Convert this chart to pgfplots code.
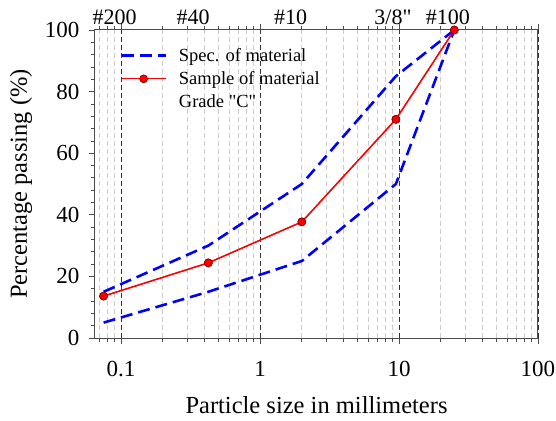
\documentclass[border=0pt]{standalone}
\usepackage{pgfplots}
\pgfplotsset{compat=1.18}
\usepackage{fontspec}
\setmainfont{Liberation Serif}[Ligatures=TeXOff]

\begin{document}
\begin{tikzpicture}[x=1pt,y=1pt]
% overall frame of the figure
\path[use as bounding box] (-95,-82) rectangle (461,338);
\begin{axis}[
  at={(0,0)}, anchor=south west,
  scale only axis, width=443pt, height=308pt,
  xmode=log, xmin=0.065, xmax=100, ymin=0, ymax=100,
  xtick={0.1,1,10,100}, xticklabels={0.1,1,10,100},
  minor xtick={0.07,0.08,0.09,0.2,0.3,0.4,0.5,0.6,0.7,0.8,0.9,2,3,4,5,6,7,8,9,20,30,40,50,60,70,80,90},
  ytick={0,20,40,60,80,100}, minor y tick num=4,
  xtick pos=both, ytick pos=left,
  tick align=outside,
  major tick length=6pt, minor tick length=4pt,
  every tick/.style={gray!60!black, line width=0.7pt},
  xmajorgrids, xminorgrids,
  major grid style={black!80, dash pattern=on 5pt off 3pt, line width=0.7pt},
  minor grid style={gray!40, dash pattern=on 5pt off 3pt, line width=0.9pt},
  axis line style={gray!60!black, line width=1pt},
  /pgf/number format/assume math mode=true,
  ticklabel style={font=\fontsize{23}{27}\selectfont},
  xticklabel style={yshift=-14pt},
  yticklabel style={xshift=-6pt},
  label style={font=\fontsize{24.5}{28}\selectfont},
  xlabel={Particle size in millimeters},
  xlabel style={yshift=-12pt},
  ylabel={Percentage passing (\%)},
  ylabel style={yshift=6pt},
  clip=false,
  legend style={draw=none, fill=none, at={(0.05,0.955)}, anchor=north west,
    font=\fontsize{18.5}{21}\selectfont, row sep=5pt, column sep=10pt},
  legend cell align=left,
  legend image code/.code={\draw[mark repeat=2,mark phase=2,#1]
    plot coordinates {(0pt,0pt) (22pt,0pt) (44pt,0pt)};},
]
% specification envelope (upper and lower limits)
\addplot[blue, line width=2.6pt, dash pattern=on 12pt off 6pt] coordinates {
  (0.075,15) (0.425,30) (2,50) (9.5,85) (25,100)};
\addlegendentry{Spec. of material}
% tested sample
\addplot[red, line width=1.3pt, mark=*, mark size=4pt,
  mark options={solid, fill=red, draw=red!45!black, line width=0.6pt}] coordinates {
  (0.075,13.6) (0.425,24.4) (2,37.7) (9.5,71) (25,100)};
\addlegendentry{Sample of material}
\addlegendimage{empty legend}
\addlegendentry{Grade "C"}
\addplot[blue, line width=2.6pt, dash pattern=on 12pt off 6pt, forget plot] coordinates {
  (0.075,5) (0.425,15) (2,25) (9.5,50) (25,100)};
% replot the sample on top of the envelope
\addplot[red, line width=1.3pt, mark=*, mark size=4pt, forget plot,
  mark options={solid, fill=red, draw=red!45!black, line width=0.6pt}] coordinates {
  (0.075,13.6) (0.425,24.4) (2,37.7) (9.5,71) (25,100)};
% sieve designations along the top
\begin{scope}[every node/.style={anchor=base, yshift=5pt, font=\fontsize{22}{26}\selectfont}]
\node at (axis cs:0.09,100) {\#200};
\node at (axis cs:0.33,100) {\#40};
\node at (axis cs:1.66,100) {\#10};
\node at (axis cs:9.05,100) {3/8"};
\node at (axis cs:22.5,100) {\#100};
\end{scope}
\end{axis}
\end{tikzpicture}
\end{document}
